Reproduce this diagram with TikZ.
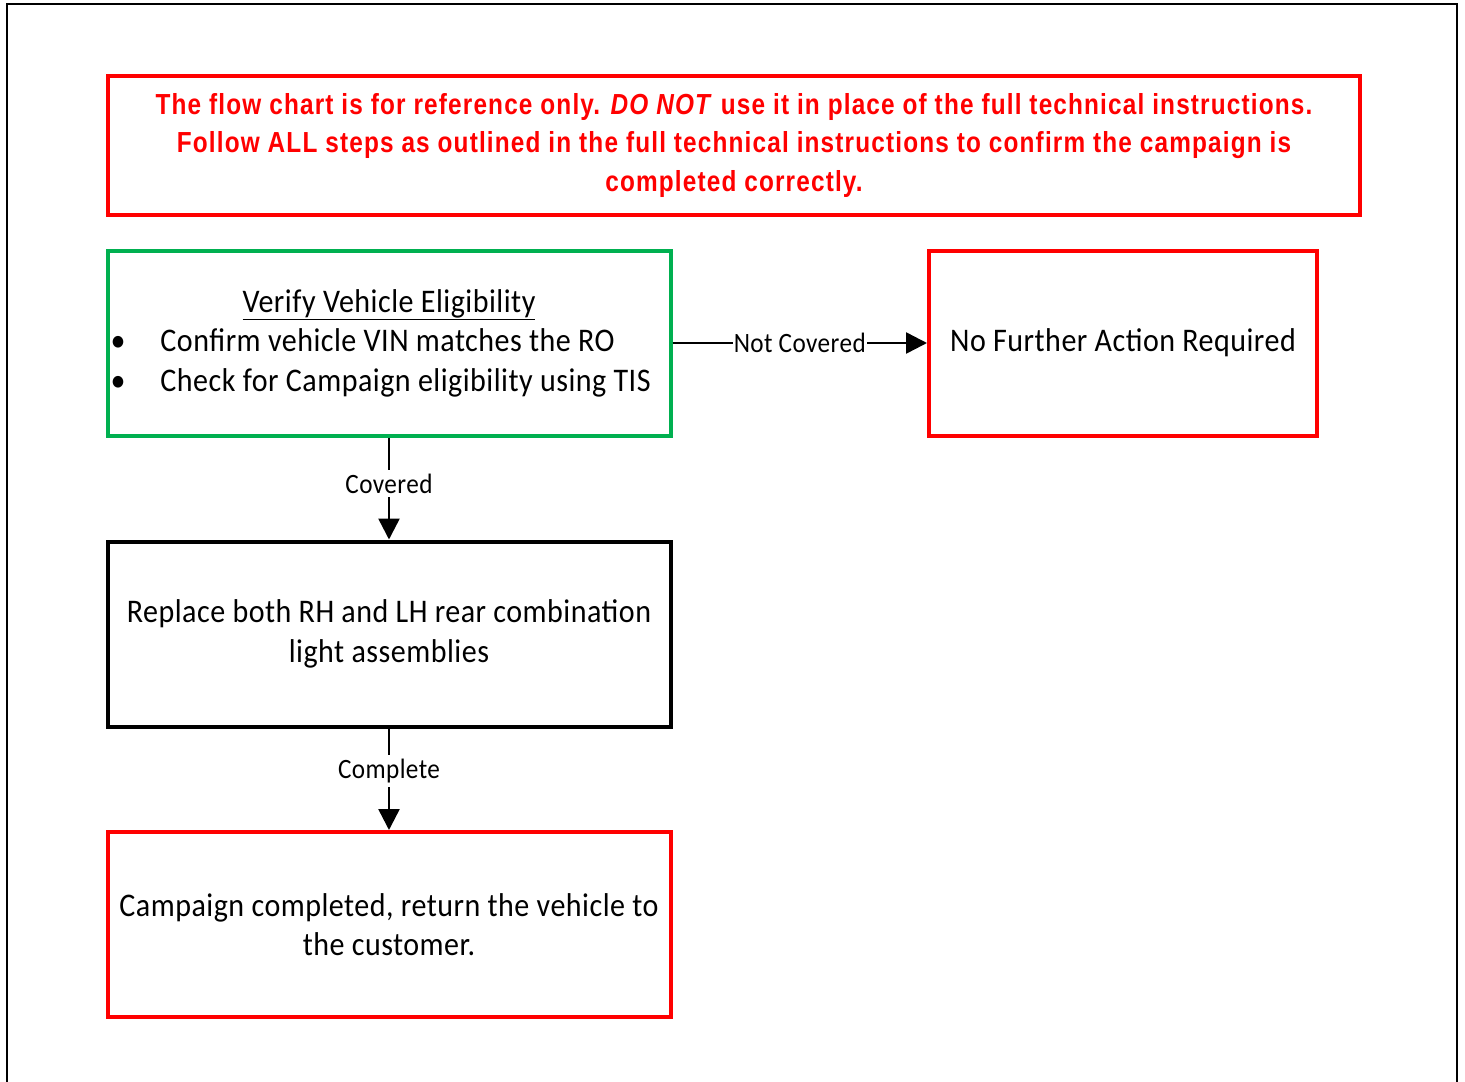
\documentclass[tikz,border=0pt]{standalone}
\usepackage{fontspec}
\setmainfont{Carlito}
\newfontfamily\bodyfont[FakeStretch=0.91,LetterSpace=1.5]{Carlito}
\newfontfamily\labelfont[FakeStretch=0.9,LetterSpace=1.5]{Carlito}
\newfontfamily\warnfont[FakeStretch=0.84,LetterSpace=4]{Liberation Sans}
\usetikzlibrary{arrows.meta, positioning}
\definecolor{warnred}{RGB}{255,0,0}
\definecolor{okgreen}{RGB}{0,176,80}
\newcommand{\bulletitem}{\hspace*{-6pt}\makebox[50pt][l]{\textbullet}}

\begin{document}
\begin{tikzpicture}[
  x=1pt, y=-1pt,
  every node/.style={align=center},
  % Warning banner
  warn/.style={rectangle, draw=warnred, line width=4pt, minimum width=1252pt, minimum height=139pt, text=warnred, font=\warnfont\fontsize{29}{38.5}\selectfont\bfseries},
  % Check box (start)
  check/.style={rectangle, draw=okgreen, line width=4pt, minimum width=563pt, minimum height=185pt, font=\bodyfont\fontsize{33}{39.5}\selectfont},
  % Work step
  work/.style={rectangle, draw=black, line width=4pt, minimum width=563pt, minimum height=185pt, font=\bodyfont\fontsize{33}{39.5}\selectfont},
  % End boxes
  stop/.style={rectangle, draw=warnred, line width=4pt, minimum width=563pt, minimum height=185pt, font=\bodyfont\fontsize{33}{39.5}\selectfont},
  % Edges
  flow/.style={line width=2.5pt, draw=black, -{Triangle[length=21pt,width=21pt]}},
  % Edge labels
  label/.style={fill=white, inner xsep=1pt, inner ysep=4pt, font=\labelfont\fontsize{28}{30}\selectfont}
]

% === Frame ===
\useasboundingbox (0,0) rectangle (1465,1082);
\draw[line width=1.5pt] (7,1082) |- (1457,4) -- (1457,1082);

% === Banner ===
\node[warn] (banner) at (734,145) {The flow chart is for reference only. \textit{DO NOT} use it in place of the full technical instructions.\\
Follow ALL steps as outlined in the full technical instructions to confirm the campaign is\\
completed correctly.};

% === Row 1: Eligibility ===
\node[check, align=left] (verify) at (389,343) {%
  \makebox[545pt][c]{\underline{Verify Vehicle Eligibility}}\\
  \bulletitem Confirm vehicle VIN matches the RO\\
  \bulletitem Check for Campaign eligibility using TIS};
\node[stop, minimum width=388pt] (noaction) at (1123,343) {No Further Action Required};

% Edge: not covered
\draw[flow] (verify) -- node[label] {Not Covered} (noaction);

% === Row 2: Repair ===
\node[work] (replace) at (389,634) {Replace both RH and LH rear combination\\light assemblies};

% Edge: covered
\draw[flow] (verify) -- node[label, pos=0.45] {Covered} (replace);

% === Row 3: Done ===
\node[stop] (done) at (389,924.5) {Campaign completed, return the vehicle to\\the customer.};

% Edge: complete
\draw[flow] (replace) -- node[label, pos=0.42] {Complete} (done);

\end{tikzpicture}
\end{document}
